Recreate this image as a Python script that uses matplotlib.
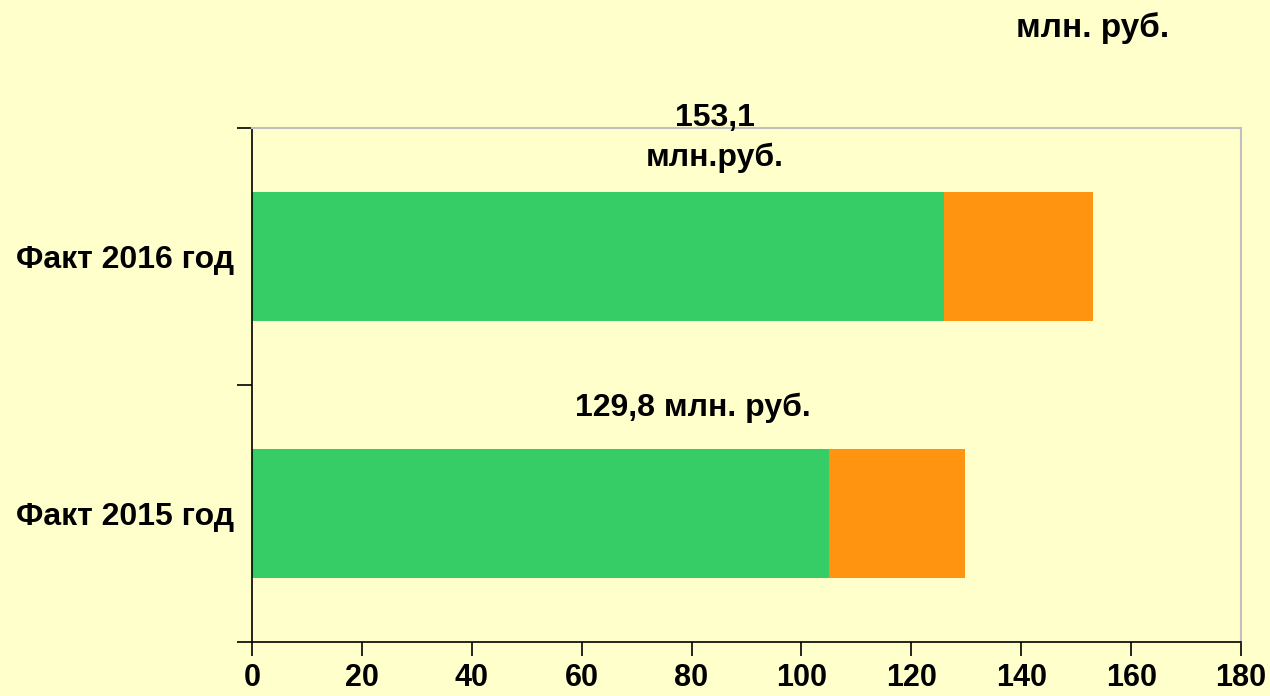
import matplotlib
matplotlib.use("Agg")
import matplotlib.pyplot as plt

# data
categories = ["Факт 2015 год", "Факт 2016 год"]
green_part = [105.1, 126.0]
orange_part = [24.7, 27.1]
totals = [129.8, 153.1]
total_labels = ["129,8 млн. руб.", "153,1\nмлн.руб."]
x_ticks = [0, 20, 40, 60, 80, 100, 120, 140, 160, 180]

BG = "#FFFFCC"
GREEN = "#36CC66"
ORANGE = "#FF9410"

plt.rcParams["font.family"] = ["Liberation Sans", "DejaVu Sans"]
plt.rcParams["font.weight"] = "bold"

fig = plt.figure(figsize=(12.7, 6.96), dpi=100, facecolor=BG)
ax = fig.add_axes([0.1984, 0.0776, 0.7788, 0.7385], facecolor=BG)

ypos = list(range(len(categories)))
ax.barh(ypos, green_part, height=0.5, color=GREEN, linewidth=0)
ax.barh(ypos, orange_part, left=green_part, height=0.5, color=ORANGE, linewidth=0)

ax.set_xlim(0, 180)
ax.set_ylim(-0.5, 1.5)
ax.set_xticks(x_ticks)
ax.set_xticklabels([str(v) for v in x_ticks], fontsize=22, fontweight="bold")

ax.set_yticks(ypos)
ax.set_yticklabels(categories, fontsize=23, fontweight="bold")
ax.tick_params(axis="y", which="major", length=0, pad=13)
ax.set_yticks([-0.5, 0.5, 1.5], minor=True)
ax.tick_params(axis="y", which="minor", length=11, width=1.2, direction="out")
ax.tick_params(axis="x", which="major", length=10, width=1.2, direction="out", pad=5)

for s in ("left", "bottom"):
    ax.spines[s].set_color("black")
    ax.spines[s].set_linewidth(1.2)
for s in ("top", "right"):
    ax.spines[s].set_color("#C0C0C0")
    ax.spines[s].set_linewidth(1.5)

# value labels above the bars
ax.text(80.2, 0.41, total_labels[0], ha="center", va="center",
        fontsize=23, fontweight="bold")
ax.text(84.2, 1.46, total_labels[1], ha="center", va="center",
        fontsize=23, fontweight="bold", linespacing=1.4)

fig.text(1093 / 1270, 1 - 28 / 696, "млн. руб.", ha="center", va="center",
         fontsize=24, fontweight="bold")

fig.savefig("out.png", dpi=100, facecolor=BG)
